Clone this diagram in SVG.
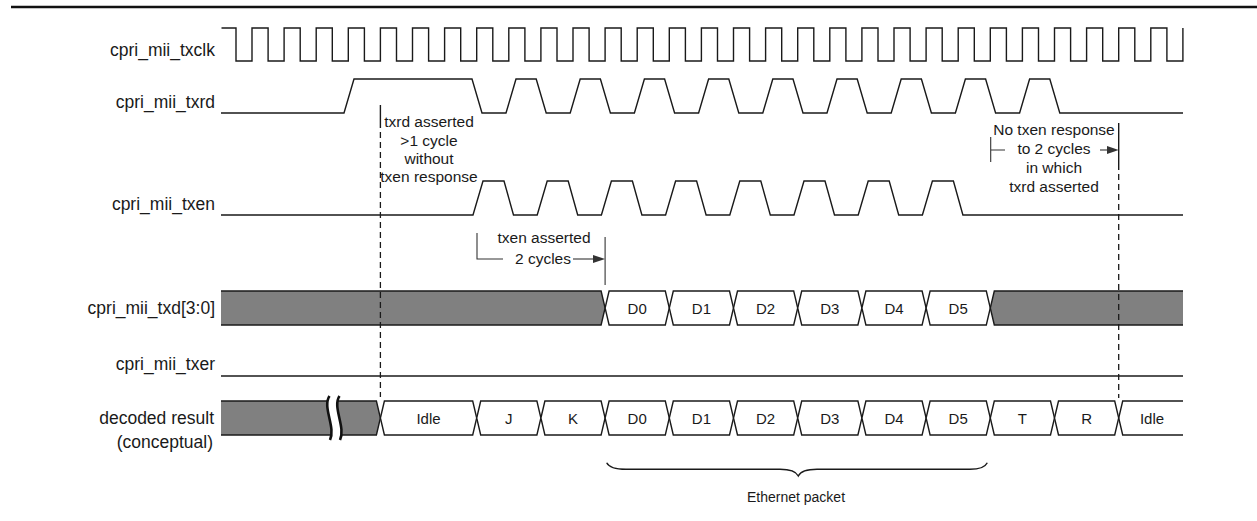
<svg xmlns="http://www.w3.org/2000/svg" width="1257" height="521" viewBox="0 0 1257 521">
<style>
.w{fill:none;stroke:#1a1a1a;stroke-width:1.4;stroke-linejoin:miter}
.lbl{font-family:"Liberation Sans",Arial,sans-serif;font-size:17.5px;fill:#1a1a1a;text-anchor:end}
.ann{font-family:"Liberation Sans",Arial,sans-serif;font-size:15.5px;fill:#1a1a1a;text-anchor:middle}
.bt{font-family:"Liberation Sans",Arial,sans-serif;font-size:15px;fill:#1a1a1a;text-anchor:middle}
.grey{fill:#808080;stroke:none}
.box{fill:#fff;stroke:#1a1a1a;stroke-width:1.4}
.dash{fill:none;stroke:#1a1a1a;stroke-width:1.3;stroke-dasharray:6 4}
.dim{fill:none;stroke:#333;stroke-width:1.1}
.ah{fill:#333}
</style>
<rect width="1257" height="521" fill="#fff"/>
<line x1="11" y1="7" x2="1257" y2="7" stroke="#111" stroke-width="2.5"/>

<g id="labels">
<text class="lbl" x="215" y="56">cpri_mii_txclk</text>
<text class="lbl" x="215" y="108">cpri_mii_txrd</text>
<text class="lbl" x="215" y="210">cpri_mii_txen</text>
<text class="lbl" x="215" y="314">cpri_mii_txd[3:0]</text>
<text class="lbl" x="215" y="370">cpri_mii_txer</text>
<text class="lbl" x="214" y="424">decoded result</text>
<text class="lbl" x="213" y="448">(conceptual)</text>
</g>

<g id="txclk">
<path class="w" d="M221.5 28H236V61H252V28H268.1V61H284.1V28H300.2V61H316.2V28H332.3V61H348.3V28H364.4V61H380.4V28H396.5V61H412.5V28H428.6V61H444.6V28H460.7V61H476.7V28H492.8V61H508.8V28H524.9V61H540.9V28H557V61H573V28H589.1V61H605.1V28H621.2V61H637.2V28H653.3V61H669.3V28H685.4V61H701.4V28H717.5V61H733.5V28H749.6V61H765.6V28H781.7V61H797.7V28H813.8V61H829.8V28H845.9V61H861.9V28H878V61H894V28H910.1V61H926.1V28H942.2V61H958.2V28H974.3V61H990.3V28H1006.4V61H1022.4V28H1038.5V61H1054.5V28H1070.6V61H1086.6V28H1102.7V61H1118.7V28H1134.8V61H1150.8V28H1166.9V61H1182.9V28"/>
</g>

<g id="txrd">
<path class="w" d="M221 113H344L354 79H472L482 113H506L516 79H536.2L546.2 113H570.2L580.2 79H600.4L610.4 113H634.4L644.4 79H664.6L674.6 113H698.6L708.6 79H728.8L738.8 113H762.8L772.8 79H793L803 113H827L837 79H857.2L867.2 113H891.2L901.2 79H921.4L931.4 113H955.4L965.4 79H985.6L995.6 113H1019.6L1029.6 79H1049.8L1059.8 113H1183"/>
</g>

<g id="txen">
<path class="w" d="M221 215H473L483 181H504L513.5 215H537.2L547.2 181H568.2L577.7 215H601.4L611.4 181H632.4L641.9 215H665.6L675.6 181H696.6L706.1 215H729.8L739.8 181H760.8L770.3 215H794L804 181H825L834.5 215H858.2L868.2 181H889.2L898.7 215H922.4L932.4 181H953.4L962.9 215H1183"/>
</g>

<g id="txd">
<polygon class="grey" points="221,291 601.1,291 605.1,308 601.1,325 221,325"/>
<path class="w" d="M221 291H601.1L605.1 308L601.1 325H221"/>
<polygon class="box" points="605.1,308 609.1,291 665.3,291 669.3,308 665.3,325 609.1,325"/>
<polygon class="box" points="669.3,308 673.3,291 729.5,291 733.5,308 729.5,325 673.3,325"/>
<polygon class="box" points="733.5,308 737.5,291 793.7,291 797.7,308 793.7,325 737.5,325"/>
<polygon class="box" points="797.7,308 801.7,291 857.9,291 861.9,308 857.9,325 801.7,325"/>
<polygon class="box" points="861.9,308 865.9,291 922.1,291 926.1,308 922.1,325 865.9,325"/>
<polygon class="box" points="926.1,308 930.1,291 986.3,291 990.3,308 986.3,325 930.1,325"/>
<polygon class="grey" points="990.3,308 994.3,291 1183,291 1183,325 994.3,325"/>
<path class="w" d="M1183 291H994.3L990.3 308L994.3 325H1183"/>
<text class="bt" x="637.2" y="313.5">D0</text>
<text class="bt" x="701.4" y="313.5">D1</text>
<text class="bt" x="765.6" y="313.5">D2</text>
<text class="bt" x="829.8" y="313.5">D3</text>
<text class="bt" x="894" y="313.5">D4</text>
<text class="bt" x="958.2" y="313.5">D5</text>
</g>

<g id="txer">
<path class="w" d="M221 376H1183"/>
</g>

<g id="decoded">
<polygon class="grey" points="221,401 376.4,401 380.4,418 376.4,435 221,435"/>
<path class="w" d="M221 401H376.4L380.4 418L376.4 435H221"/>
<path d="M329.5 396C322 407 336 427 330 440L340 440C346 427 332 407 339.5 396Z" fill="#fff"/>
<path d="M329.5 396C322 407 336 427 330 440M339.5 396C332 407 346 427 340 440" fill="none" stroke="#111" stroke-width="2.6"/>
<polygon class="box" points="380.4,418 384.4,401 472.7,401 476.7,418 472.7,435 384.4,435"/>
<polygon class="box" points="476.7,418 480.7,401 536.9,401 540.9,418 536.9,435 480.7,435"/>
<polygon class="box" points="540.9,418 544.9,401 601.1,401 605.1,418 601.1,435 544.9,435"/>
<polygon class="box" points="605.1,418 609.1,401 665.3,401 669.3,418 665.3,435 609.1,435"/>
<polygon class="box" points="669.3,418 673.3,401 729.5,401 733.5,418 729.5,435 673.3,435"/>
<polygon class="box" points="733.5,418 737.5,401 793.7,401 797.7,418 793.7,435 737.5,435"/>
<polygon class="box" points="797.7,418 801.7,401 857.9,401 861.9,418 857.9,435 801.7,435"/>
<polygon class="box" points="861.9,418 865.9,401 922.1,401 926.1,418 922.1,435 865.9,435"/>
<polygon class="box" points="926.1,418 930.1,401 986.3,401 990.3,418 986.3,435 930.1,435"/>
<polygon class="box" points="990.3,418 994.3,401 1050.5,401 1054.5,418 1050.5,435 994.3,435"/>
<polygon class="box" points="1054.5,418 1058.5,401 1114.7,401 1118.7,418 1114.7,435 1058.5,435"/>
<path class="w" d="M1183 401H1122.7L1118.7 418L1122.7 435H1183" fill="#fff"/>
<text class="bt" x="428.5" y="423.5">Idle</text>
<text class="bt" x="508.8" y="423.5">J</text>
<text class="bt" x="573" y="423.5">K</text>
<text class="bt" x="637.2" y="423.5">D0</text>
<text class="bt" x="701.4" y="423.5">D1</text>
<text class="bt" x="765.6" y="423.5">D2</text>
<text class="bt" x="829.8" y="423.5">D3</text>
<text class="bt" x="894" y="423.5">D4</text>
<text class="bt" x="958.2" y="423.5">D5</text>
<text class="bt" x="1022.4" y="423.5">T</text>
<text class="bt" x="1086.6" y="423.5">R</text>
<text class="bt" x="1152" y="423.5">Idle</text>
</g>

<g id="connectors">
<path class="w" d="M380.4 105V128" stroke-width="1.2"/>
<path class="dash" d="M380.4 132V397"/>
<path class="w" d="M1118.7 123V170" stroke-width="1.2"/>
<path class="dash" d="M1118.7 174V398"/>
<path class="dim" d="M477 233V259H503"/>
<path class="dim" d="M573 259H595"/>
<polygon class="ah" points="593,255 605.1,259 593,263"/>
<path class="dim" d="M605.1 237V285"/>
<path class="dim" d="M990.7 137V162M990.7 150H1005"/>
<path class="dim" d="M1100 150H1109"/>
<polygon class="ah" points="1107,146 1118.7,150 1107,154"/>
<path class="w" d="M606.7 462.7Q610 469.3 626 469.3H780Q795 469.3 798.3 476Q801.6 469.3 817 469.3H970Q984 469.3 987.3 462.7" stroke-width="1.2"/>
</g>

<g id="annotations">
<text class="ann" x="429" y="127">txrd asserted</text>
<text class="ann" x="429" y="145.5">&gt;1 cycle</text>
<text class="ann" x="429" y="164">without</text>
<text class="ann" x="429" y="181.5">txen response</text>
<text class="ann" x="544" y="243">txen asserted</text>
<text class="ann" x="543" y="264">2 cycles</text>
<text class="ann" x="1054" y="135">No txen response</text>
<text class="ann" x="1054" y="154">to 2 cycles</text>
<text class="ann" x="1054" y="173">in which</text>
<text class="ann" x="1054" y="192">txrd asserted</text>
<text class="bt" x="796" y="502" style="font-size:14px">Ethernet packet</text>
</g>
</svg>
